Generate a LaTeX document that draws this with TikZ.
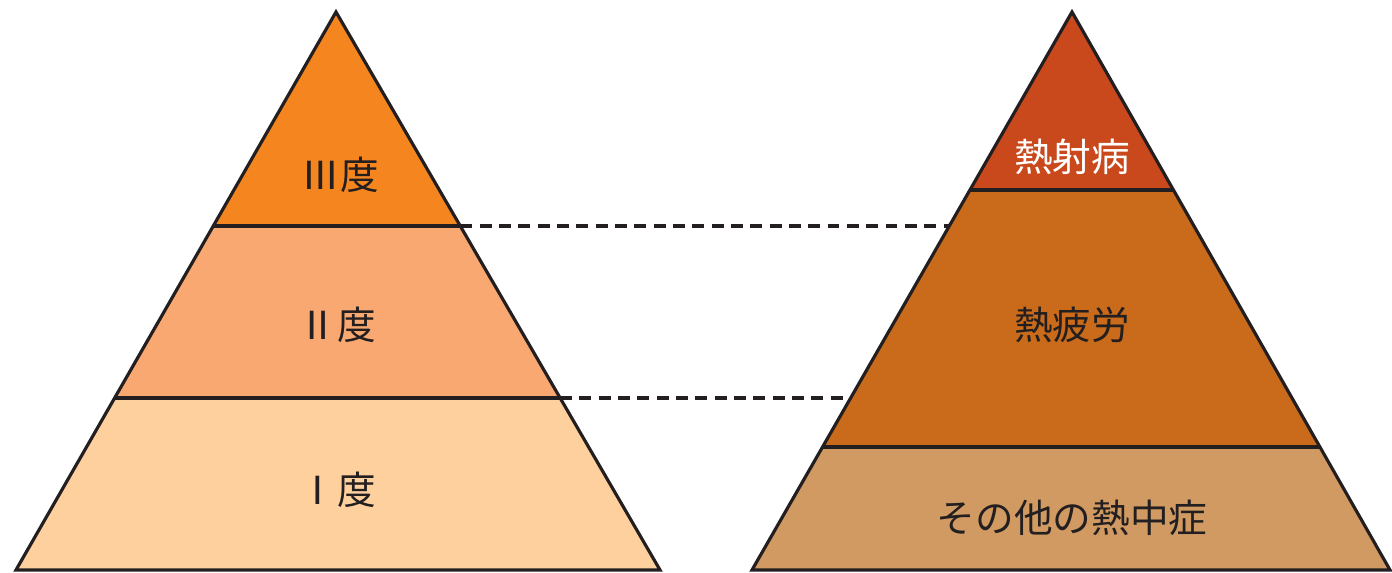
\documentclass[tikz,border=0pt]{standalone}
\usepackage{fontspec}
\newfontfamily\jpfont{Noto Sans CJK JP}
\usepackage{xcolor}
\usetikzlibrary{calc}

\definecolor{inkline}{HTML}{231F20}
\definecolor{gradeIII}{HTML}{F5861F}
\definecolor{gradeII}{HTML}{F8A870}
\definecolor{gradeI}{HTML}{FDD09E}
\definecolor{heatstroke}{HTML}{C9491C}
\definecolor{exhaust}{HTML}{C96B1A}
\definecolor{otherheat}{HTML}{D09A62}

\begin{document}
\begin{tikzpicture}[
    font=\jpfont\fontsize{11pt}{13pt}\selectfont,
    edge/.style = {draw=inkline, line width=0.9pt, line join=miter},
    link/.style = {draw=inkline, line width=0.9pt, dash pattern=on 3.4pt off 2.1pt},
    lbl/.style  = {inner sep=0pt, text=inkline},
    lblw/.style = {lbl, text=white},
]

\useasboundingbox (0,0) rectangle (13.92,5.73);

%--- left pyramid: grades
\coordinate (la) at (3.36,5.61);
\coordinate (ll) at (0.16,0.03);
\coordinate (lr) at (6.60,0.03);
\coordinate (la1) at ($(la)!0.3835!(ll)$);
\coordinate (lb1) at ($(la)!0.3835!(lr)$);
\coordinate (la2) at ($(la)!0.6918!(ll)$);
\coordinate (lb2) at ($(la)!0.6918!(lr)$);

\fill[gradeIII] (la) -- (la1) -- (lb1) -- cycle;
\fill[gradeII] (la1) -- (la2) -- (lb2) -- (lb1) -- cycle;
\fill[gradeI] (la2) -- (ll) -- (lr) -- (lb2) -- cycle;
\draw[edge] (la1) -- (lb1);
\draw[edge] (la2) -- (lb2);
\draw[edge] (la) -- (ll) -- (lr) -- cycle;

\node[lbl] (g3) at (3.40,3.98) {Ⅲ度};
\node[lbl] (g2) at (3.37,2.48) {Ⅱ度};
\node[lbl] (g1) at (3.37,0.83) {Ⅰ度};

%--- right pyramid: conditions
\coordinate (ra) at (10.72,5.61);
\coordinate (rl) at (7.52,0.03);
\coordinate (rr) at (13.90,0.03);
\coordinate (ra1) at ($(ra)!0.319!(rl)$);
\coordinate (rb1) at ($(ra)!0.319!(rr)$);
\coordinate (ra2) at ($(ra)!0.7796!(rl)$);
\coordinate (rb2) at ($(ra)!0.7796!(rr)$);
\coordinate (rc1) at ($(ra)!0.3835!(rl)$);
\coordinate (rc2) at ($(ra)!0.6918!(rl)$);

\fill[heatstroke] (ra) -- (ra1) -- (rb1) -- cycle;
\fill[exhaust] (ra1) -- (ra2) -- (rb2) -- (rb1) -- cycle;
\fill[otherheat] (ra2) -- (rl) -- (rr) -- (rb2) -- cycle;
\draw[edge] (ra1) -- (rb1);
\draw[edge] (ra2) -- (rb2);
\draw[edge] (ra) -- (rl) -- (rr) -- cycle;

\node[lblw] (hs) at (10.72,4.16) {熱射病};
\node[lbl] (he) at (10.72,2.48) {熱疲労};
\node[lbl] (ho) at (10.72,0.55) {その他の熱中症};

%--- dashed links between the pyramids
\draw[link] (lb1) -- (rc1);
\draw[link] (lb2) -- (rc2);

\end{tikzpicture}
\end{document}
